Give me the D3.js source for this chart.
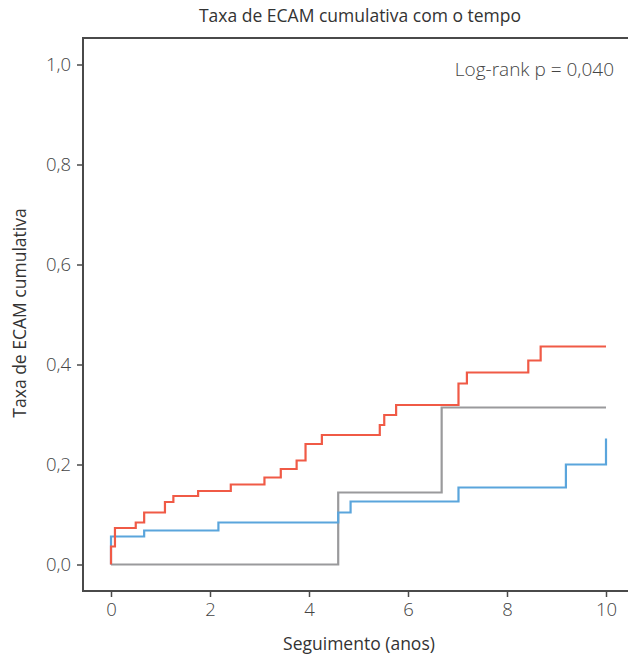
<!DOCTYPE html>
<html><head><meta charset="utf-8">
<script src="https://cdn.jsdelivr.net/npm/d3@7"></script>
<style>body{margin:0;background:#fff}svg{display:block}text{font-family:"Open Sans",sans-serif}</style>
</head><body><svg id="c" width="628" height="656"></svg>
<script>
const xTicks=[0,2,4,6,8,10];
const yTicks=[0,0.2,0.4,0.6,0.8,1.0];
const redT=[0,0,0.08,0.5,0.67,1.09,1.26,1.76,2.42,3.1,3.43,3.75,3.93,4.26,5.43,5.52,5.76,7.02,7.19,8.43,8.68,10];
const redV=[0,0.036,0.073,0.084,0.104,0.125,0.137,0.147,0.160,0.174,0.191,0.208,0.241,0.259,0.279,0.299,0.319,0.362,0.384,0.408,0.436,0.436];
const blueT=[0,0,0.67,2.17,4.59,4.84,7.02,9.19,10,10];
const blueV=[0,0.056,0.068,0.084,0.104,0.126,0.154,0.200,0.200,0.252];
const grayT=[0,4.59,6.68,10];
const grayV=[0,0.144,0.314,0.314];
const title="Taxa de ECAM cumulativa com o tempo";
const xLabel="Seguimento (anos)";
const yLabel="Taxa de ECAM cumulativa";
const note="Log-rank p = 0,040";

const svg=d3.select("#c");
const x=d3.scaleLinear().domain([0,10]).range([111,606]);
const y=d3.scaleLinear().domain([0,1]).range([564.5,64.5]);
const L=83,R=628,T=38,B=591;
const fmt=d=>d3.format(".1f")(d).replace(".",",");
const axCol="#4a4a4a";

svg.append("path").attr("d",`M${R},${T}H${L}V${B}H${R}`).attr("fill","none").attr("stroke",axCol).attr("stroke-width",2);

const ya=svg.append("g").attr("transform",`translate(${L},0)`).call(d3.axisLeft(y).tickValues(yTicks).tickFormat(fmt).tickSize(6).tickPadding(6));
ya.select(".domain").remove();
ya.selectAll("line").attr("stroke",axCol).attr("stroke-width",1.5);
ya.selectAll("text").attr("font-size",18.5).attr("fill","#444").attr("font-family","Open Sans, sans-serif").attr("font-weight",300);

const xa=svg.append("g").attr("transform",`translate(0,${B})`).call(d3.axisBottom(x).tickValues(xTicks).tickFormat(d3.format("d")).tickSize(6).tickPadding(6));
xa.select(".domain").remove();
xa.selectAll("line").attr("stroke",axCol).attr("stroke-width",1.5);
xa.selectAll("text").attr("font-size",18.5).attr("fill","#444").attr("font-family","Open Sans, sans-serif").attr("font-weight",300);

const line=d3.line().x(d=>x(d[0])).y(d=>y(d[1])).curve(d3.curveStepAfter);
const series=[
 {t:grayT,v:grayV,c:"#9a9a9c"},
 {t:blueT,v:blueV,c:"#5aa5dc"},
 {t:redT,v:redV,c:"#f05a46"}
];
series.forEach(s=>{
  svg.append("path").datum(d3.zip(s.t,s.v)).attr("d",line).attr("fill","none").attr("stroke",s.c).attr("stroke-width",2.2);
});

svg.append("text").attr("x",360).attr("y",22).attr("text-anchor","middle").attr("font-size",17.5).attr("font-weight",500).attr("fill","#333").text(title);
svg.append("text").attr("x",359).attr("y",650).attr("text-anchor","middle").attr("font-size",17.5).attr("font-weight",500).attr("fill","#333").text(xLabel);
svg.append("text").attr("transform","translate(26,313) rotate(-90)").attr("text-anchor","middle").attr("font-size",17.5).attr("font-weight",500).attr("fill","#333").text(yLabel);
svg.append("text").attr("x",614).attr("y",76).attr("text-anchor","end").attr("font-size",19).attr("font-weight",300).attr("fill","#444").text(note);
</script></body></html>
